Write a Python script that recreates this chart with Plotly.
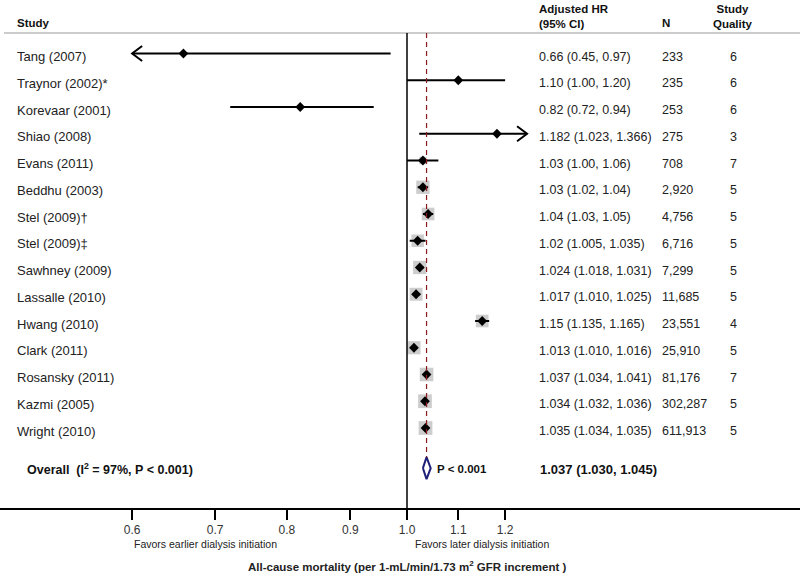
import numpy as np
import plotly.graph_objects as go

# ---------------- data ----------------
studies = ["Tang (2007)", "Traynor (2002)*", "Korevaar (2001)", "Shiao (2008)", "Evans (2011)",
           "Beddhu (2003)", "Stel (2009)\u2020", "Stel (2009)\u2021", "Sawhney (2009)", "Lassalle (2010)",
           "Hwang (2010)", "Clark (2011)", "Rosansky (2011)", "Kazmi (2005)", "Wright (2010)"]
hr = [0.66, 1.10, 0.82, 1.182, 1.03, 1.03, 1.04, 1.02, 1.024, 1.017, 1.15, 1.013, 1.037, 1.034, 1.035]
ci_lo = [0.45, 1.00, 0.72, 1.023, 1.00, 1.02, 1.03, 1.005, 1.018, 1.010, 1.135, 1.010, 1.034, 1.032, 1.034]
ci_hi = [0.97, 1.20, 0.94, 1.366, 1.06, 1.04, 1.05, 1.035, 1.031, 1.025, 1.165, 1.016, 1.041, 1.036, 1.035]
hr_text = ["0.66 (0.45, 0.97)", "1.10 (1.00, 1.20)", "0.82 (0.72, 0.94)", "1.182 (1.023, 1.366)",
           "1.03 (1.00, 1.06)", "1.03 (1.02, 1.04)", "1.04 (1.03, 1.05)", "1.02 (1.005, 1.035)",
           "1.024 (1.018, 1.031)", "1.017 (1.010, 1.025)", "1.15 (1.135, 1.165)", "1.013 (1.010, 1.016)",
           "1.037 (1.034, 1.041)", "1.034 (1.032, 1.036)", "1.035 (1.034, 1.035)"]
n_text = ["233", "235", "253", "275", "708", "2,920", "4,756", "6,716", "7,299", "11,685",
          "23,551", "25,910", "81,176", "302,287", "611,913"]
quality = [6, 6, 6, 3, 7, 5, 5, 5, 5, 5, 4, 5, 7, 5, 5]
weights = [0.3, 1.2, 1.0, 0.9, 3.0, 9.6, 8.6, 8.4, 9.6, 9.0, 8.6, 9.4, 10.0, 10.2, 10.2]
overall_hr, overall_lo, overall_hi = 1.037, 1.030, 1.045
overall_text = "1.037 (1.030, 1.045)"
overall_label = "Overall  (I<sup>2</sup> = 97%, P < 0.001)"
overall_p = "P < 0.001"
tick_vals = [0.6, 0.7, 0.8, 0.9, 1.0, 1.1, 1.2]
tick_text = ["0.6", "0.7", "0.8", "0.9", "1.0", "1.1", "1.2"]

# ---------------- layout constants ----------------
W, H = 800, 576
PLOT_H = 508           # plot area height (x-axis line at bottom)
ROW0, ROWH = 53.5, 26.75
PX_PER_LOG10 = 1239.0
X_ONE = 407.0
x_range = [-X_ONE / PX_PER_LOG10, (W - X_ONE) / PX_PER_LOG10]
y_range = [(PLOT_H - ROW0) / ROWH, -ROW0 / ROWH]
CLIP_LO, CLIP_HI = 0.6, 1.25
overall_row = len(studies) + 0.5
header_row = (33 - ROW0) / ROWH

FONT = "Liberation Sans, Arial, Helvetica, sans-serif"
TXT = "#222222"

rows = list(range(len(studies)))
fig = go.Figure()

# weight squares
fig.add_trace(go.Scatter(
    x=hr, y=rows, mode="markers",
    marker=dict(symbol="square", size=[4.3 * np.sqrt(w) for w in weights],
                color="#b8b8b8", line=dict(width=0)),
    hoverinfo="skip", showlegend=False))

# CI lines (clipped)
lx, ly = [], []
for r, l, h in zip(rows, ci_lo, ci_hi):
    lx += [max(l, CLIP_LO), min(h, CLIP_HI), None]
    ly += [r, r, None]
fig.add_trace(go.Scatter(x=lx, y=ly, mode="lines", line=dict(color="black", width=2),
                         hoverinfo="skip", showlegend=False))

# chevron arrows for clipped CIs
ax, ay = [], []
dx = 10 / PX_PER_LOG10
dy = 7.5 / ROWH
for r, l, h in zip(rows, ci_lo, ci_hi):
    if l < CLIP_LO:
        tip = np.log10(CLIP_LO)
        ax += [10 ** (tip + dx), CLIP_LO, 10 ** (tip + dx), None]
        ay += [r - dy, r, r + dy, None]
    if h > CLIP_HI:
        tip = np.log10(CLIP_HI)
        ax += [10 ** (tip - dx), CLIP_HI, 10 ** (tip - dx), None]
        ay += [r - dy, r, r + dy, None]
fig.add_trace(go.Scatter(x=ax, y=ay, mode="lines", line=dict(color="black", width=2),
                         hoverinfo="skip", showlegend=False))

# point estimates
fig.add_trace(go.Scatter(x=hr, y=rows, mode="markers",
                         marker=dict(symbol="diamond", size=7.5, color="black"),
                         hoverinfo="skip", showlegend=False))

# overall diamond
dh = 11 / ROWH
fig.add_trace(go.Scatter(
    x=[overall_lo, overall_hr, overall_hi, overall_hr, overall_lo],
    y=[overall_row, overall_row - dh, overall_row, overall_row + dh, overall_row],
    mode="lines", fill="toself", fillcolor="white",
    line=dict(color="#1f1f78", width=2), hoverinfo="skip", showlegend=False))

# reference lines (shapes on log axes take raw data values)
shapes = [
    dict(type="line", xref="paper", yref="y", x0=4 / W, x1=1, y0=header_row, y1=header_row,
         line=dict(color="#cccccc", width=2)),
    dict(type="line", xref="x", yref="paper", x0=1.0, x1=1.0, y0=0, y1=1 - 33 / PLOT_H,
         line=dict(color="black", width=1.5)),
    dict(type="line", xref="x", yref="y", x0=overall_hr, x1=overall_hr,
         y0=header_row, y1=overall_row - dh,
         line=dict(color="#8b1a1a", width=1.2, dash="5px,4px")),
]

ann = []
def A(text, xpx, row, anchor="left", size=12.5, bold=False, yshift=-3, color=TXT, align="left"):
    ann.append(dict(text=("<b>%s</b>" % text) if bold else text, x=xpx / W, xref="paper",
                    y=row, yref="y", xanchor=anchor, yanchor="middle", showarrow=False,
                    yshift=yshift, align=align,
                    font=dict(family=FONT, size=size, color=color)))

for r in rows:
    A(studies[r], 15, r, size=13)
    A(hr_text[r], 537, r)
    A(n_text[r], 660, r)
    A(str(quality[r]), 733, r, anchor="center", align="center")

# headers
hdr_row = (23 - ROW0) / ROWH
hdr2_row = (16 - ROW0) / ROWH
A("Study", 15, hdr_row, size=11.5, bold=True, yshift=0, color="#111")
A("Adjusted HR<br>(95% CI)", 537, hdr2_row, size=11.5, bold=True, yshift=0, color="#111")
A("N", 660, hdr_row, size=11.5, bold=True, yshift=0, color="#111")
A("Study<br>Quality", 733, hdr2_row, anchor="center", size=11.5, bold=True, yshift=0,
  color="#111", align="center")

# overall row
A(overall_label, 25, overall_row, size=12.5, bold=True, yshift=-1, color="#111")
A(overall_p, 435, overall_row, size=11.5, bold=True, yshift=-1, color="#111")
A(overall_text, 538, overall_row, size=13, bold=True, yshift=-1, color="#111")

# below-axis labels
def B(text, xpx, ypx, anchor="left", size=10.5, bold=False):
    ann.append(dict(text=("<b>%s</b>" % text) if bold else text, x=xpx / W, xref="paper",
                    y=1 - ypx / PLOT_H, yref="paper", xanchor=anchor, yanchor="middle",
                    showarrow=False, font=dict(family=FONT, size=size, color="#222")))

B("Favors earlier dialysis initiation", 132, 544)
B("Favors later dialysis initiation", 413, 544)
B("All-cause mortality (per 1-mL/min/1.73 m<sup>2</sup> GFR increment )", 407, 566,
  anchor="center", size=11.5, bold=True)

fig.update_layout(
    width=W, height=H, margin=dict(l=0, r=0, t=0, b=H - PLOT_H),
    paper_bgcolor="white", plot_bgcolor="white",
    xaxis=dict(type="log", range=x_range, tickvals=tick_vals, ticktext=tick_text,
               showgrid=False, zeroline=False, showline=True, linecolor="black", linewidth=1.5,
               ticks="outside", ticklen=10, tickwidth=1.5, tickcolor="black",
               tickfont=dict(family=FONT, size=12, color="#333"), fixedrange=True),
    yaxis=dict(range=y_range, visible=False, fixedrange=True),
    shapes=shapes, annotations=ann, showlegend=False,
)

fig.write_html("out.html", config={"displayModeBar": False},
               post_script="document.body.style.margin='0';document.body.style.overflow='hidden';")
